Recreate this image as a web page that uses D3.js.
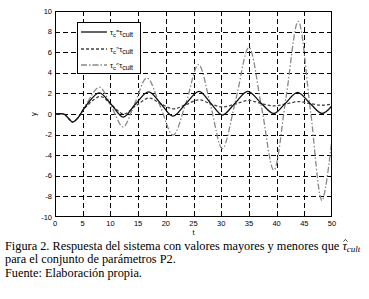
<!DOCTYPE html>
<html>
<head>
<meta charset="utf-8">
<script src="https://cdn.jsdelivr.net/npm/d3@7"></script>
<style>
  body { margin: 0; background: #fff; }
  svg { display: block; }
</style>
</head>
<body>
<div id="chart"></div>
<script>
// tick values
var xTicks = [0, 5, 10, 15, 20, 25, 30, 35, 40, 45, 50];
var yTicks = [-10, -8, -6, -4, -2, 0, 2, 4, 6, 8, 10];

// tau_c = tau_cult (solid)
var tEqual = [0, 1.6, 2.3, 3.2, 4.1, 5.6, 8.0, 10.2, 12.3, 14.5, 16.9, 19.1, 21.3, 23.6, 26.0, 28.1, 30.2, 32.5, 34.8, 37.2, 39.5, 41.6, 43.8, 46.0, 48.2, 50];
var yEqual = [0, 0, -0.35, -0.78, -0.4, 0.8, 2.05, 0.9, -0.3, 0.95, 2.15, 1.0, -0.2, 1.0, 2.2, 1.05, -0.1, 1.05, 2.2, 1.05, 0.05, 1.05, 2.1, 1.05, 0.05, 0.8];

// tau_c > tau_cult (dashed)
var tGreater = [0, 1.6, 2.3, 3.2, 4.1, 5.6, 8.2, 10.3, 12.4, 14.6, 17.0, 19.2, 21.4, 23.6, 26.0, 28.2, 30.3, 32.6, 35.0, 37.3, 39.5, 41.7, 44.0, 46.1, 48.3, 50];
var yGreater = [0, 0, -0.35, -0.78, -0.4, 0.7, 1.7, 0.85, 0.0, 0.8, 1.55, 0.95, 0.5, 0.9, 1.38, 0.95, 0.68, 0.98, 1.32, 1.0, 0.78, 0.98, 1.2, 1.0, 0.85, 0.97];

// tau_c < tau_cult (dash-dot)
var tLess = [0, 1.6, 2.3, 3.2, 4.1, 5.6, 8.0, 10.2, 12.3, 14.3, 16.6, 19.0, 21.3, 23.6, 25.9, 28.1, 30.2, 32.6, 35.0, 37.3, 39.5, 41.7, 43.9, 46.1, 48.2, 50];
var yLess = [0, 0, -0.35, -0.78, -0.4, 0.9, 2.6, 0.7, -1.25, 0.9, 3.5, 0.75, -2.05, 1.0, 4.8, 0.8, -3.35, 1.3, 6.45, 0.6, -5.45, 1.6, 9.0, 0.4, -8.4, -2.4];

var legendNames = ["=", ">", "<"];

var W = 369, H = 299;
var margin = {left: 55, right: 37, top: 11, bottom: 82};
var pw = W - margin.left - margin.right,
    ph = H - margin.top - margin.bottom;

var svg = d3.select("#chart").append("svg")
    .attr("width", W)
    .attr("height", H);

var x = d3.scaleLinear().domain([0, 50]).range([margin.left, margin.left + pw]);
var y = d3.scaleLinear().domain([-10, 10]).range([margin.top + ph, margin.top]);

svg.append("defs").append("clipPath").attr("id", "plotclip")
    .append("rect")
    .attr("x", x(0)).attr("y", y(10))
    .attr("width", pw).attr("height", ph);

// grid
var grid = svg.append("g").attr("stroke", "#000").attr("stroke-width", 1).attr("stroke-dasharray", "5,3");
grid.selectAll("line.vx")
    .data(xTicks.slice(1, -1))
    .enter().append("line")
    .attr("x1", d => Math.round(x(d)) + 0.5).attr("x2", d => Math.round(x(d)) + 0.5)
    .attr("y1", y(10)).attr("y2", y(-10));
grid.selectAll("line.hy")
    .data(yTicks.slice(1, -1))
    .enter().append("line")
    .attr("y1", d => Math.round(y(d)) + 0.5).attr("y2", d => Math.round(y(d)) + 0.5)
    .attr("x1", x(0)).attr("x2", x(50));

// series
var lineGen = d3.line().curve(d3.curveCatmullRom.alpha(0.5));
function drawSeries(ts, vs, color, dash) {
    let pts = ts.map((t, i) => [x(t), y(vs[i])]);
    svg.append("path")
        .attr("clip-path", "url(#plotclip)")
        .attr("d", lineGen(pts))
        .attr("fill", "none")
        .attr("stroke", color)
        .attr("stroke-width", 1.3)
        .attr("stroke-dasharray", dash);
}
drawSeries(tGreater, yGreater, "#444", "3,2");
drawSeries(tLess, yLess, "#888", "6,2,1.5,2");
drawSeries(tEqual, yEqual, "#111", null);

// box + axes
svg.append("rect")
    .attr("x", x(0) + 0.5).attr("y", y(10) + 0.5)
    .attr("width", pw - 1).attr("height", ph - 1)
    .attr("fill", "none").attr("stroke", "#000").attr("stroke-width", 1);

var axisFont = "Arial, 'Liberation Sans', sans-serif";
svg.append("g").selectAll("text")
    .data(yTicks).enter().append("text")
    .attr("x", x(0) - 3)
    .attr("y", d => y(d) + 2.5)
    .attr("text-anchor", "end")
    .attr("font-family", axisFont)
    .attr("font-size", 7.5)
    .text(d => d);
svg.append("g").selectAll("text")
    .data(xTicks).enter().append("text")
    .attr("x", d => x(d))
    .attr("y", y(-10) + 9)
    .attr("text-anchor", "middle")
    .attr("font-family", axisFont)
    .attr("font-size", 7.5)
    .text(d => d);

svg.append("text")
    .attr("x", x(25)).attr("y", 235)
    .attr("text-anchor", "middle")
    .attr("font-family", axisFont).attr("font-size", 7.5)
    .text("t");
svg.append("text")
    .attr("transform", "translate(36," + y(0) + ") rotate(-90)")
    .attr("text-anchor", "middle")
    .attr("font-family", axisFont).attr("font-size", 7.5)
    .text("y");

// legend
var lg = svg.append("g");
lg.append("rect")
    .attr("x", 77.5).attr("y", 22.5).attr("width", 63).attr("height", 51)
    .attr("fill", "#fff").attr("stroke", "#000");
var legendStyles = [["#111", null], ["#444", "3,2"], ["#888", "6,2,1.5,2"]];
var legendY = [32, 49, 65];
legendNames.forEach(function(sym, i) {
    lg.append("line")
        .attr("x1", 81).attr("x2", 107)
        .attr("y1", legendY[i]).attr("y2", legendY[i])
        .attr("stroke", legendStyles[i][0])
        .attr("stroke-width", 1.3)
        .attr("stroke-dasharray", legendStyles[i][1]);
    let t = lg.append("text")
        .attr("x", 110).attr("y", legendY[i] + 3)
        .attr("font-family", axisFont).attr("font-size", 7.5);
    t.append("tspan").text("τ");
    t.append("tspan").attr("dy", 2).attr("font-size", 6).text("c");
    t.append("tspan").attr("dy", -4).attr("font-size", 5.5).text(sym);
    t.append("tspan").attr("dy", 2).text("τ");
    t.append("tspan").attr("dy", 2).attr("font-size", 7).text("cult");
});

// caption
var capFont = "'Liberation Serif', 'Times New Roman', serif";
var capX = 5;
var cap = svg.append("g")
    .attr("font-family", capFont)
    .attr("font-size", 12.3)
    .attr("fill", "#000");
var l1 = cap.append("text").attr("x", capX).attr("y", 249.5);
var head = l1.append("tspan").text("Figura 2. Respuesta del sistema con valores mayores y menores que ");
l1.append("tspan").attr("font-style", "italic").text("τ");
l1.append("tspan").attr("font-style", "italic").attr("font-size", 9).attr("dy", 2).text("cult");
// hat over tau, drawn as a small path
let nHead = head.text().length;
let tauX = capX + l1.node().getSubStringLength(0, nHead);
let tauW = l1.node().getSubStringLength(nHead, 1);
let hx = tauX + tauW / 2 + 0.8;
svg.append("path")
    .attr("d", "M" + (hx - 2) + ",241.5 L" + hx + ",239.5 L" + (hx + 2) + ",241.5")
    .attr("fill", "none").attr("stroke", "#000").attr("stroke-width", 0.8);
cap.append("text").attr("x", capX).attr("y", 263).text("para el conjunto de parámetros P2.");
cap.append("text").attr("x", capX).attr("y", 276.5).text("Fuente: Elaboración propia.");
</script>
</body>
</html>
